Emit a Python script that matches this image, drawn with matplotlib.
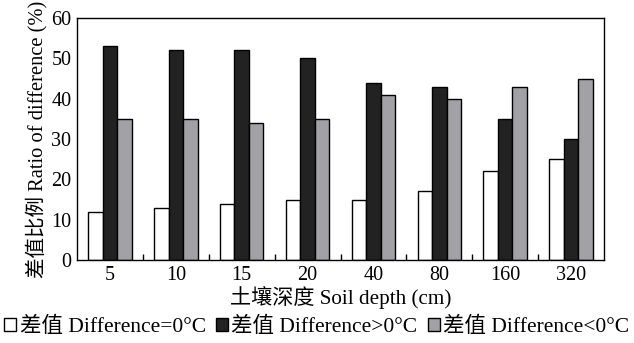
#!/usr/bin/env python3
"""Ratio of temperature difference by soil depth."""

import matplotlib
matplotlib.use("Agg")
import matplotlib.pyplot as plt
from matplotlib.patches import Patch
import numpy as np

plt.rcParams["font.family"] = ["Liberation Serif", "Noto Sans CJK SC"]

depths = ["5", "10", "15", "20", "40", "80", "160", "320"]
diff_zero = [12, 13, 14, 15, 15, 17, 22, 25]
diff_pos = [53, 52, 52, 50, 44, 43, 35, 30]
diff_neg = [35, 35, 34, 35, 41, 40, 43, 45]

labels = ["差值 Difference=0°C", "差值 Difference>0°C", "差值 Difference<0°C"]
colors = ["white", "#222222", "#a2a2a6"]


def main():
    fig = plt.figure(figsize=(6.34, 3.43), dpi=100)
    ax = fig.add_axes([77 / 634, 1 - 260 / 343, 527 / 634, 242 / 343])

    x = np.arange(len(depths))
    width = 0.22
    for i, (vals, c) in enumerate(zip([diff_zero, diff_pos, diff_neg], colors)):
        ax.bar(x + (i - 1) * width, vals, width, color=c,
               edgecolor="black", linewidth=1.0)

    ax.set_xlim(-0.5, len(depths) - 0.5)
    ax.set_ylim(0, 60)
    ax.set_yticks(range(0, 61, 10))
    ax.set_xticks(x)
    ax.set_xticklabels(depths)
    ax.set_xticks(x[:-1] + 0.5, minor=True)
    ax.tick_params(axis="both", which="major", length=0, labelsize=14.5, pad=4)
    ax.tick_params(axis="x", which="minor", direction="in", length=4, width=1)
    for s in ax.spines.values():
        s.set_linewidth(1.0)

    ax.set_ylabel("差值比例 Ratio of difference (%)", fontsize=14.8, labelpad=3)
    ax.set_xlabel("土壤深度 Soil depth (cm)", fontsize=15.2, labelpad=1)

    handles = [Patch(facecolor=c, edgecolor="black", linewidth=1.0) for c in colors]
    fig.legend(handles, labels, loc="center", bbox_to_anchor=(0.5, 1 - 327 / 343),
               ncol=3, frameon=False, fontsize=15.5, handlelength=0.55,
               handleheight=0.55, handletextpad=0.15, columnspacing=0.5,
               borderaxespad=0)

    fig.savefig("out.png", dpi=100)
    plt.close(fig)


if __name__ == "__main__":
    main()
